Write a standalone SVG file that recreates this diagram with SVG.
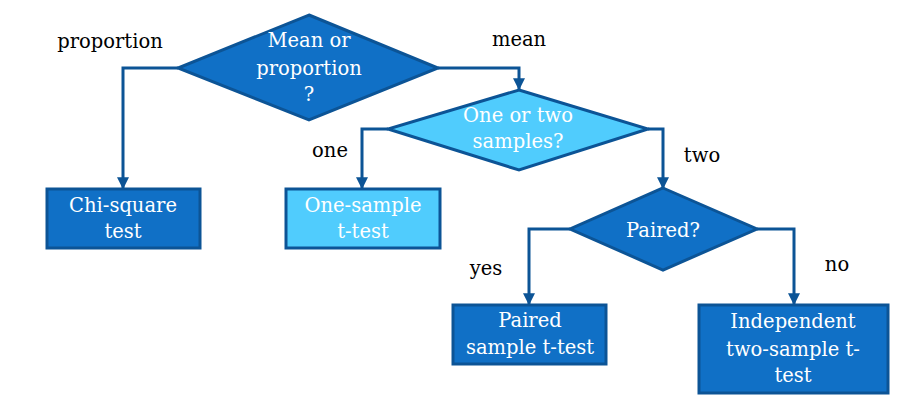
<svg xmlns="http://www.w3.org/2000/svg" width="903" height="402" viewBox="0 0 903 402">
<defs>
<style>
.dark{fill:#1070C6;stroke:#0C5496;stroke-width:3;stroke-linejoin:miter}
.light{fill:#50CCFD;stroke:#0C5496;stroke-width:3;stroke-linejoin:miter}
.t{font-family:"DejaVu Serif","Liberation Serif",serif;font-size:19.5px;fill:#FFFFFF;text-anchor:middle}
.lbl{font-family:"DejaVu Serif","Liberation Serif",serif;font-size:19.5px;fill:#000000;text-anchor:middle}
.c{fill:none;stroke:#0C5496;stroke-width:3;marker-end:url(#ah)}
</style>
<marker id="ah" viewBox="0 0 10 10" refX="9" refY="5" markerWidth="4" markerHeight="4" markerUnits="strokeWidth" orient="auto">
<path d="M0,0 L10,5 L0,10 z" fill="#0C5496"/>
</marker>
</defs>
<rect width="903" height="402" fill="#FFFFFF"/>
<g id="connectors">
<polyline class="c" points="178,68 123,68 123,188"/>
<polyline class="c" points="438,68 519,68 519,89"/>
<polyline class="c" points="388,129 362,129 362,188"/>
<polyline class="c" points="648,129 663,129 663,188"/>
<polyline class="c" points="570,229 529,229 529,304"/>
<polyline class="c" points="757,229 794,229 794,304"/>
</g>
<g id="labels">
<text class="lbl" x="110" y="48">proportion</text>
<text class="lbl" x="519" y="46">mean</text>
<text class="lbl" x="330" y="157">one</text>
<text class="lbl" x="702" y="162">two</text>
<text class="lbl" x="486" y="275">yes</text>
<text class="lbl" x="837" y="271">no</text>
</g>
<g id="node-mean-or-proportion">
<polygon class="dark" points="309,15 438,68 309,120 178,68"/>
<text class="t" x="309" y="47">Mean or</text>
<text class="t" x="309" y="75">proportion</text>
<text class="t" x="309" y="101">?</text>
</g>
<g id="node-one-or-two">
<polygon class="light" points="519,90 648,129 519,170 388,129"/>
<text class="t" x="518" y="122">One or two</text>
<text class="t" x="518" y="148">samples?</text>
</g>
<g id="node-paired">
<polygon class="dark" points="663,188 757,229 663,270 570,229"/>
<text class="t" x="663" y="237">Paired?</text>
</g>
<g id="node-chi-square">
<rect class="dark" x="47" y="189" width="153" height="59"/>
<text class="t" x="123" y="212">Chi-square</text>
<text class="t" x="123" y="238">test</text>
</g>
<g id="node-one-sample">
<rect class="light" x="286" y="189" width="154" height="59"/>
<text class="t" x="363" y="212">One-sample</text>
<text class="t" x="363" y="238">t-test</text>
</g>
<g id="node-paired-sample">
<rect class="dark" x="453" y="305" width="153" height="59"/>
<text class="t" x="530" y="327">Paired</text>
<text class="t" x="530" y="354">sample t-test</text>
</g>
<g id="node-independent">
<rect class="dark" x="699" y="305" width="189" height="88"/>
<text class="t" x="793" y="328">Independent</text>
<text class="t" x="793" y="356">two-sample t-</text>
<text class="t" x="793" y="382">test</text>
</g>
</svg>
